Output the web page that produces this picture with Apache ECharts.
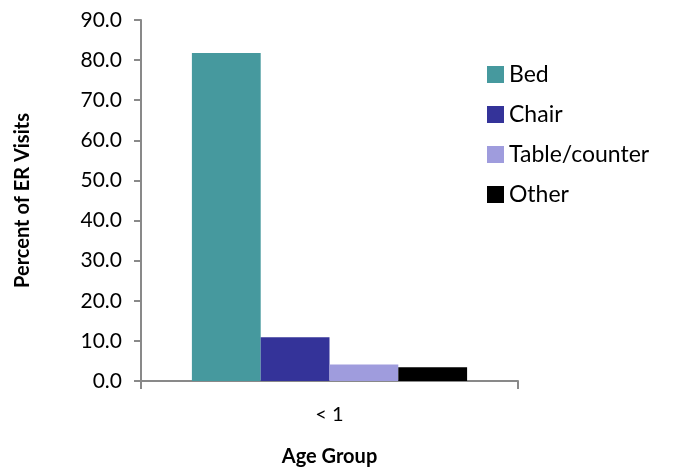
<!DOCTYPE html>
<html lang="en">
<head>
  <meta charset="UTF-8">
  <title>ER Visits by Age Group</title>
  <script src="https://cdn.jsdelivr.net/npm/echarts@6/dist/echarts.min.js"></script>
  <style>body{margin:0;background:#fff;}</style>
</head>
<body>
    <div id="main" style="width: 679px;height:469px;"></div>
    <script type="text/javascript">
        // data
        var categories = ['< 1'];
        var seriesNames = ['Bed', 'Chair', 'Table/counter', 'Other'];
        var seriesColors = ['#46999e', '#343399', '#9f9cdd', '#000000'];
        var bed = [81.8];
        var chair = [10.9];
        var tableCounter = [4.1];
        var other = [3.4];
        var allValues = [bed, chair, tableCounter, other];

        var font = 'Lato, "Open Sans", sans-serif';
        var axisGrey = '#898989';

        var myChart = echarts.init(document.getElementById('main'));

        var series = [];
        for (var i = 0; i < seriesNames.length; i++) {
            series.push({
                name: seriesNames[i],
                type: 'bar',
                data: allValues[i],
                barGap: '0%',
                barCategoryGap: '27%',
                itemStyle: { color: seriesColors[i] }
            });
        }

        var option = {
            animation: false,
            grid: { left: 141, top: 20, right: 161, bottom: 88, outerBoundsMode: 'none', containLabel: false },
            legend: {
                orient: 'vertical',
                left: 482,
                top: 58,
                icon: 'rect',
                itemWidth: 17,
                itemHeight: 17,
                itemGap: 17,
                data: seriesNames,
                textStyle: { fontFamily: font, fontSize: 23, color: '#000' }
            },
            xAxis: {
                type: 'category',
                data: categories,
                name: 'Age Group',
                nameLocation: 'middle',
                nameGap: 66,
                nameTextStyle: { fontFamily: font, fontSize: 20, fontWeight: 'bold', color: '#000' },
                axisLine: { lineStyle: { color: axisGrey, width: 2 } },
                axisTick: { show: true, length: 8, lineStyle: { color: axisGrey, width: 2 } },
                axisLabel: { fontFamily: font, fontSize: 20, color: '#000', margin: 24 }
            },
            yAxis: {
                type: 'value',
                min: 0,
                max: 90,
                interval: 10,
                name: 'Percent of ER Visits',
                nameLocation: 'middle',
                nameGap: 108,
                nameTextStyle: { fontFamily: font, fontSize: 20, fontWeight: 'bold', color: '#000' },
                axisLine: { show: true, lineStyle: { color: axisGrey, width: 2 } },
                axisTick: { show: true, length: 7, lineStyle: { color: axisGrey, width: 2 } },
                splitLine: { show: false },
                axisLabel: {
                    fontFamily: font, fontSize: 21, color: '#000', margin: 19,
                    formatter: function (v) { return v.toFixed(1); }
                }
            },
            series: series
        };

        myChart.setOption(option);
    </script>
</body>
</html>
